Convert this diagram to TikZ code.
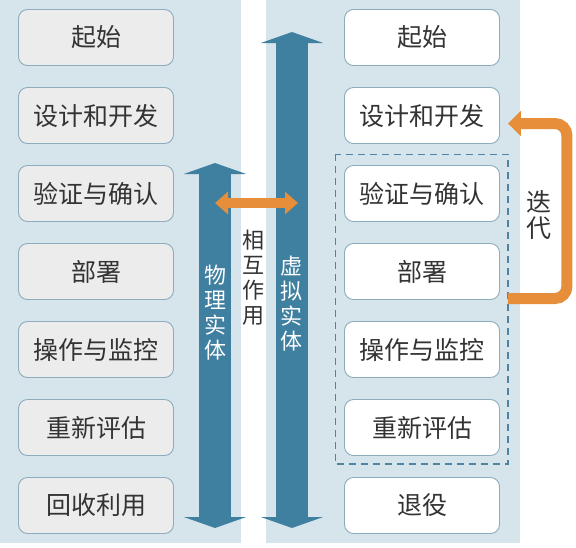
\documentclass[tikz,border=0pt]{standalone}
\usepackage{fontspec}
\setmainfont{Noto Sans CJK SC}
\usetikzlibrary{arrows.meta}
\definecolor{panel}{HTML}{D6E4EB}
\definecolor{boxgrey}{HTML}{ECECEC}
\definecolor{boxline}{HTML}{8DADBD}
\definecolor{txtgrey}{HTML}{333333}
\definecolor{arrowblue}{HTML}{3F7FA0}
\definecolor{orangearr}{HTML}{E68E3A}
\definecolor{dashblue}{HTML}{4F83A3}
\tikzset{
  stage/.style={draw=boxline,line width=0.9pt,rounded corners=9pt,minimum width=155pt,
    minimum height=56pt,inner sep=0pt,text=txtgrey,font=\fontsize{25}{25}\selectfont},
  physbox/.style={stage,fill=boxgrey},
  virtbox/.style={stage,fill=white},
  vlabel/.style={align=center,inner sep=0pt,font=\fontsize{22}{25}\selectfont},
  bigarrow/.style={draw=arrowblue,line width=32pt,
    {Triangle[width=62pt,length=11pt]}-{Triangle[width=62pt,length=11pt]}},
  linkarrow/.style={draw=orangearr,line width=10pt,
    {Triangle[width=22pt,length=13pt]}-{Triangle[width=22pt,length=13pt]}},
  iterarrow/.style={draw=orangearr,line width=11pt,rounded corners=12pt,
    -{Triangle[width=25pt,length=13pt]}}
}
\begin{document}
\begin{tikzpicture}[x=1pt,y=-1pt]
    \useasboundingbox (0,0) rectangle (576,547);
    % panels
    \fill[panel] (0,0) rectangle (241,543);
    \fill[panel] (266,0) rectangle (520,543);
    % physical entity stages
    \node[physbox] (l1) at (96,37.5)  {起始};
    \node[physbox] (l2) at (96,115.5) {设计和开发};
    \node[physbox] (l3) at (96,193.5) {验证与确认};
    \node[physbox] (l4) at (96,271.5) {部署};
    \node[physbox] (l5) at (96,349.5) {操作与监控};
    \node[physbox] (l6) at (96,427.5) {重新评估};
    \node[physbox] (l7) at (96,505.5) {回收利用};
    % virtual entity stages
    \node[virtbox] (r1) at (422,37.5)  {起始};
    \node[virtbox] (r2) at (422,115.5) {设计和开发};
    \node[virtbox] (r3) at (422,193.5) {验证与确认};
    \node[virtbox] (r4) at (422,271.5) {部署};
    \node[virtbox] (r5) at (422,349.5) {操作与监控};
    \node[virtbox] (r6) at (422,427.5) {重新评估};
    \node[virtbox] (r7) at (422,505.5) {退役};
    \draw[draw=dashblue,line width=1.1pt,dash pattern=on 7pt off 5pt]
        ([xshift=-9pt,yshift=11pt]r3.north west) rectangle ([xshift=8pt,yshift=-8pt]r6.south east);
    % life-cycle arrows
    \coordinate (phyup) at (215,163);
    \coordinate (phydown) at (215,528);
    \coordinate (virup) at (292,32);
    \coordinate (virdown) at (292,528);
    \draw[bigarrow] (phydown) -- (phyup);
    \draw[bigarrow] (virdown) -- (virup);
    \coordinate (linkl) at (215,203);
    \coordinate (linkr) at (298,203);
    \draw[linkarrow] (linkl) -- (linkr);
    \draw[iterarrow] ([xshift=8pt,yshift=-27pt]r4.east) -- ++(59,0)
        |- ([xshift=8pt,yshift=-8pt]r2.east);
    % labels
    \node[vlabel,text=white] (phy) at (215,313) {物\\理\\实\\体};
    \node[vlabel,text=white] (vir) at (291,304) {虚\\拟\\实\\体};
    \node[vlabel,text=txtgrey] (inter) at (253,278) {相\\互\\作\\用};
    \node[vlabel,text=txtgrey,font=\fontsize{25}{26}\selectfont] (iter) at (539,215) {迭\\代};
\end{tikzpicture}
\end{document}
